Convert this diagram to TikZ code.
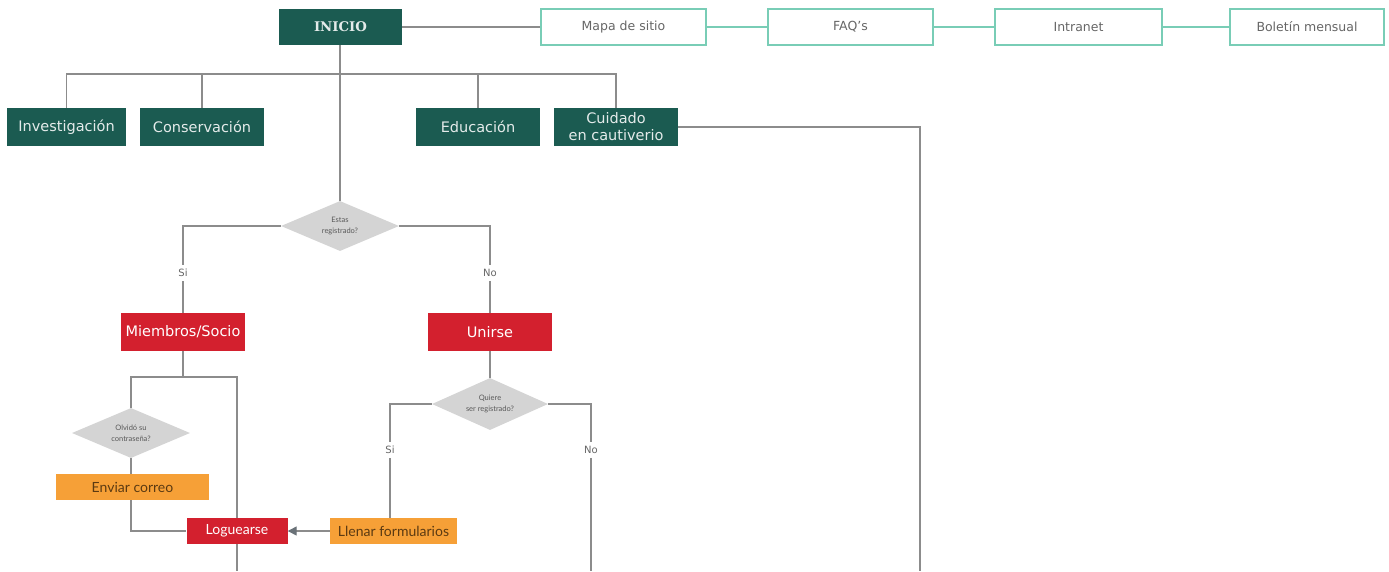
\documentclass[tikz,border=0pt]{standalone}
\usepackage{fontspec}
\setmainfont{DejaVu Sans}
\newfontfamily\latofont{Lato}
\newfontfamily\serifbold{DejaVu Serif}
\usetikzlibrary{shapes.geometric,arrows.meta}
\definecolor{dteal}{HTML}{1B5B51}
\definecolor{bred}{HTML}{D3202E}
\definecolor{borange}{HTML}{F6A037}
\definecolor{dgray}{HTML}{D4D4D4}
\definecolor{lgray}{HTML}{8C8C8C}
\definecolor{agray}{HTML}{6A7278}
\definecolor{tborder}{HTML}{79CDB6}
\definecolor{otext}{HTML}{5B3A12}
\tikzset{
  gl/.style={draw=lgray,line width=1.3pt},
  tl/.style={draw=tborder,line width=1.3pt},
  greenbox/.style={fill=dteal,text=white!88!dteal,inner sep=0pt,minimum height=38pt,font=\fontsize{14.5}{16}\selectfont,align=center},
  topbox/.style={draw=tborder,line width=1.3pt,fill=white,text=black!60,inner sep=0pt,minimum height=36pt,font=\fontsize{12.5}{14}\selectfont},
  redbox/.style={fill=bred,text=white,inner sep=0pt,minimum height=38pt,font=\fontsize{14.5}{16}\selectfont},
  orangebox/.style={fill=borange,text=otext,inner sep=0pt,minimum height=26pt,font=\latofont\fontsize{14}{16}\selectfont},
  decision/.style={diamond,fill=dgray,inner sep=0pt,aspect=2.3,text=black!65,align=center,font=\latofont\fontsize{7.5}{11}\selectfont},
  lbl/.style={text=black!60,inner sep=4pt,font=\fontsize{10}{11}\selectfont},
}
\begin{document}
\begin{tikzpicture}[x=1pt,y=-1pt]
\useasboundingbox[fill=white] (0,0) rectangle (1389,571);
% top row
\node[greenbox,minimum width=123pt,font=\serifbold\bfseries\fontsize{13.3}{15}\selectfont,minimum height=36pt] (inicio) at (340.5,27) {INICIO};
\node[topbox,minimum width=165pt] (mapa) at (623.5,27) {Mapa de sitio};
\node[topbox,minimum width=165pt] (faq) at (850.5,27) {FAQ's};
\node[topbox,minimum width=167pt] (intranet) at (1078.5,27) {Intranet};
\node[topbox,minimum width=154pt] (boletin) at (1307,27) {Boletín mensual};
% second row
\node[greenbox,minimum width=119pt] (inv) at (66.5,127) {Investigación};
\node[greenbox,minimum width=124pt] (con) at (202,127) {Conservación};
\node[greenbox,minimum width=124pt] (edu) at (478,127) {Educación};
\node[greenbox,minimum width=124pt,font=\fontsize{14.5}{17}\selectfont] (cui) at (616,127) {Cuidado\\en cautiverio};
% decisions
\node[decision,minimum width=118pt,minimum height=50pt] (d1) at (340,226) {Estas\\registrado?};
\node[lbl] (si1) at (183,273) {Si};
\node[lbl] (no1) at (490,273) {No};
\node[redbox,minimum width=124pt] (miem) at (183,332) {Miembros/Socio};
\node[redbox,minimum width=124pt] (unir) at (490,332) {Unirse};
\node[decision,minimum width=116pt,minimum height=52pt] (d2) at (490,404) {Quiere\\ser registrado?};
\node[decision,minimum width=118pt,minimum height=50pt] (d3) at (131,433) {Olvidó su\\contraseña?};
\node[lbl] (si2) at (390,450) {Si};
\node[lbl] (no2) at (591,450) {No};
\node[orangebox,minimum width=153pt] (env) at (132.5,487) {Enviar correo};
\node[redbox,minimum width=101pt,minimum height=26pt,font=\latofont\fontsize{14}{16}\selectfont] (log) at (237,531) {Loguearse};
\node[orangebox,minimum width=127pt] (llen) at (393.5,531) {Llenar formularios};
% coordinates
\coordinate (busy) at (0,74);
\coordinate (bl) at (131,377);
\coordinate (br) at (237,377);
\coordinate (bot) at (0,571);
\coordinate (cend) at (920,571);
% connectors
\draw[gl] (inicio) -- (mapa);
\draw[tl] (mapa) -- (faq);
\draw[tl] (faq) -- (intranet);
\draw[tl] (intranet) -- (boletin);
\draw[gl] (inv.north) -- (inv.north |- busy) -| (cui.north);
\draw[gl] (con.north) -- (con.north |- busy);
\draw[gl] (edu.north) -- (edu.north |- busy);
\draw[gl] (d1.north |- inicio.south) -- (d1.north);
\draw[gl] (cui.east) -| (cend);
\draw[gl] (d1.west) -| (si1.north);
\draw[gl] (si1.south) -- (miem.north);
\draw[gl] (d1.east) -| (no1.north);
\draw[gl] (no1.south) -- (unir.north);
\draw[gl] (miem.south) -- (miem.south |- bl);
\draw[gl] (d3.north) |- (br) -- (log.north);
\draw[gl] (d3.south) -- (d3.south |- env.north);
\draw[gl] (d3.south |- env.south) |- (log.west);
\draw[gl] (log.south) -- (log.south |- bot);
\draw[gl,-{Triangle[length=9pt,width=9pt,color=agray]}] (llen.west) -- (log.east);
\draw[gl] (unir.south) -- (d2.north);
\draw[gl] (d2.west) -| (si2.north);
\draw[gl] (si2.south) -- (si2.south |- llen.north);
\draw[gl] (d2.east) -| (no2.north);
\draw[gl] (no2.south) -- (no2.south |- bot);
\end{tikzpicture}
\end{document}
